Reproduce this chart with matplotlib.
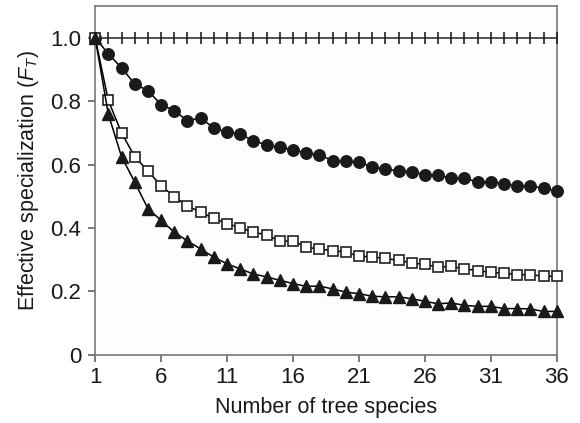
import matplotlib
matplotlib.use("Agg")
import matplotlib.pyplot as plt
from matplotlib.ticker import FixedLocator, FixedFormatter

plt.rcParams['font.family'] = ['Liberation Sans', 'DejaVu Sans']
plt.rcParams['mathtext.fontset'] = 'custom'
plt.rcParams['mathtext.it'] = 'Liberation Sans:italic'
plt.rcParams['mathtext.rm'] = 'Liberation Sans'

species = list(range(1, 37))

# generalist reference (all at 1)
generalist = [1.0] * 36

circles = [1.00, 0.949, 0.905, 0.854, 0.833, 0.789, 0.770, 0.738, 0.747, 0.715,
           0.702, 0.696, 0.675, 0.662, 0.654, 0.647, 0.636, 0.631, 0.612, 0.610,
           0.607, 0.593, 0.585, 0.580, 0.578, 0.567, 0.567, 0.557, 0.557, 0.545,
           0.545, 0.540, 0.531, 0.533, 0.525, 0.517]

squares = [1.00, 0.802, 0.700, 0.625, 0.580, 0.533, 0.499, 0.469, 0.450, 0.430,
           0.414, 0.401, 0.387, 0.378, 0.359, 0.359, 0.340, 0.333, 0.329, 0.324,
           0.311, 0.309, 0.304, 0.298, 0.290, 0.285, 0.277, 0.279, 0.271, 0.266,
           0.260, 0.258, 0.253, 0.253, 0.248, 0.248]

triangles = [1.00, 0.759, 0.625, 0.545, 0.461, 0.424, 0.387, 0.359, 0.334, 0.308,
             0.287, 0.271, 0.255, 0.246, 0.235, 0.225, 0.216, 0.217, 0.208, 0.198,
             0.193, 0.185, 0.183, 0.183, 0.177, 0.169, 0.161, 0.164, 0.156, 0.153,
             0.153, 0.146, 0.146, 0.145, 0.137, 0.137]

x_ticks = [1, 6, 11, 16, 21, 26, 31, 36]
y_ticks = [0, 0.2, 0.4, 0.6, 0.8, 1.0]
y_labels = ["0", "0.2", "0.4", "0.6", "0.8", "1.0"]

fig = plt.figure(figsize=(5.8, 4.23), dpi=100)
fig.patch.set_facecolor("white")
ax = fig.add_axes([0.164, 0.161, 0.796, 0.825])
ax.set_facecolor("#fdfdfd")

ax.plot(species, generalist, color="#222222", lw=1.1, marker="|", ms=9, mew=1.2,
        clip_on=False, zorder=3)
ax.plot(species, circles, color="black", lw=1.1, marker="o", ms=8.3,
        mfc="#1a1a1a", mec="#1a1a1a", clip_on=False, zorder=4)
ax.plot(species, squares, color="black", lw=1.1, marker="s", ms=7.5,
        mfc="white", mec="#222222", mew=1.2, clip_on=False, zorder=4)
ax.plot(species, triangles, color="black", lw=1.1, marker="^", ms=8.8,
        mfc="#1a1a1a", mec="#1a1a1a", clip_on=False, zorder=4)

ax.set_xlim(1, 36)
ax.set_ylim(0, 1.1)
ax.xaxis.set_major_locator(FixedLocator(x_ticks))
ax.yaxis.set_major_locator(FixedLocator(y_ticks))
ax.yaxis.set_major_formatter(FixedFormatter(y_labels))

for s in ax.spines.values():
    s.set_color("#777777")
    s.set_linewidth(1.2)

ax.tick_params(axis="both", direction="out", length=5, width=1.1, color="#555555",
               labelsize=16, labelcolor="#1a1a1a")
ax.tick_params(axis="x", pad=4)
ax.tick_params(axis="y", pad=5)

ax.set_xlabel("Number of tree species", fontsize=15.5, color="#1a1a1a", labelpad=6)
ax.set_ylabel(r"Effective specialization ($F_T$)", fontsize=15.5, color="#1a1a1a",
              labelpad=7)

fig.savefig("out.png", dpi=100)
